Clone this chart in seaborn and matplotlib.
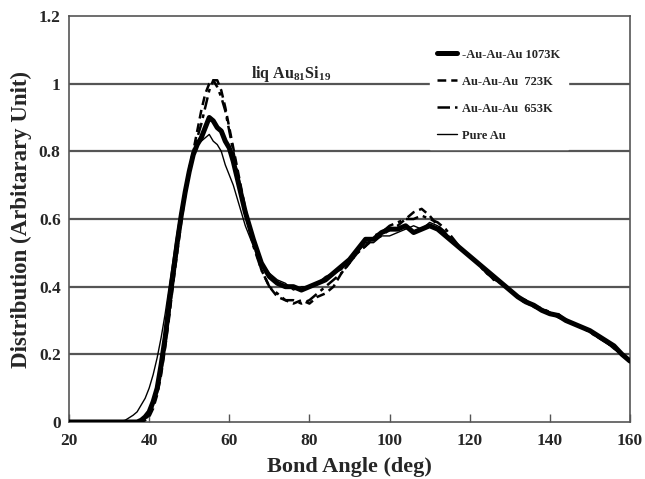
import numpy as np
import pandas as pd
import matplotlib
matplotlib.use("Agg")
import matplotlib.pyplot as plt
import seaborn as sns

angles = [20, 22, 24, 26, 28, 30, 32, 34] + list(range(36, 67)) + list(range(68, 161, 2))

k1073 = [0, 0, 0, 0, 0, 0, 0, 0,
         0.0, 0.0, 0.005, 0.015, 0.03, 0.06, 0.10, 0.17, 0.25, 0.35, 0.44, 0.53, 0.61, 0.68, 0.74,
         0.79, 0.82, 0.84, 0.87, 0.90, 0.89, 0.87, 0.86, 0.83, 0.81, 0.77, 0.72, 0.67, 0.62, 0.58, 0.54,
         0.47, 0.43, 0.41, 0.40, 0.40, 0.39, 0.40, 0.41, 0.42, 0.44, 0.46, 0.48, 0.51, 0.54, 0.54, 0.56,
         0.57, 0.57, 0.58, 0.56, 0.57, 0.58, 0.57, 0.55, 0.53, 0.51, 0.49, 0.47, 0.45, 0.43, 0.41, 0.39,
         0.37, 0.355, 0.345, 0.33, 0.32, 0.315, 0.30, 0.29, 0.28, 0.27, 0.255, 0.24, 0.225, 0.20, 0.18]

k723 = [0, 0, 0, 0, 0, 0, 0, 0,
        0.0, 0.0, 0.0, 0.005, 0.015, 0.04, 0.08, 0.14, 0.22, 0.31, 0.41, 0.50, 0.59, 0.67, 0.74,
        0.80, 0.86, 0.92, 0.97, 1.00, 1.01, 1.01, 0.98, 0.93, 0.87, 0.81, 0.75, 0.69, 0.63, 0.58, 0.53,
        0.45, 0.40, 0.37, 0.36, 0.35, 0.36, 0.35, 0.37, 0.38, 0.40, 0.44, 0.47, 0.50, 0.52, 0.54, 0.55,
        0.57, 0.58, 0.60, 0.62, 0.63, 0.61, 0.58, 0.56, 0.53, 0.51, 0.49, 0.47, 0.45, 0.42, 0.41, 0.39,
        0.37, 0.36, 0.34, 0.33, 0.32, 0.32, 0.30, 0.29, 0.28, 0.27, 0.25, 0.24, 0.22, 0.20, 0.18]

k653 = [0, 0, 0, 0, 0, 0, 0, 0,
        0.0, 0.0, 0.003, 0.008, 0.02, 0.05, 0.09, 0.15, 0.23, 0.32, 0.42, 0.51, 0.60, 0.68, 0.75,
        0.80, 0.84, 0.88, 0.93, 0.98, 1.01, 0.99, 0.96, 0.92, 0.86, 0.80, 0.74, 0.68, 0.62, 0.57, 0.52,
        0.45, 0.40, 0.38, 0.36, 0.36, 0.35, 0.36, 0.38, 0.40, 0.42, 0.44, 0.47, 0.50, 0.52, 0.55, 0.56,
        0.58, 0.59, 0.60, 0.60, 0.61, 0.60, 0.59, 0.57, 0.54, 0.51, 0.49, 0.47, 0.44, 0.43, 0.41, 0.39,
        0.37, 0.35, 0.345, 0.335, 0.325, 0.31, 0.30, 0.29, 0.28, 0.265, 0.25, 0.235, 0.22, 0.20, 0.18]

pure_au = [0, 0, 0, 0, 0, 0, 0, 0.005,
           0.02, 0.03, 0.05, 0.07, 0.10, 0.14, 0.19, 0.25, 0.32, 0.40, 0.48, 0.56, 0.63, 0.69, 0.75,
           0.79, 0.82, 0.83, 0.84, 0.85, 0.83, 0.82, 0.80, 0.76, 0.73, 0.70, 0.66, 0.62, 0.58, 0.55, 0.52,
           0.47, 0.44, 0.42, 0.41, 0.39, 0.40, 0.40, 0.41, 0.43, 0.44, 0.45, 0.48, 0.50, 0.53, 0.53, 0.55,
           0.55, 0.56, 0.57, 0.58, 0.57, 0.59, 0.58, 0.56, 0.53, 0.51, 0.49, 0.47, 0.44, 0.42, 0.41, 0.39,
           0.37, 0.36, 0.34, 0.335, 0.325, 0.31, 0.305, 0.29, 0.28, 0.265, 0.25, 0.235, 0.215, 0.20, 0.18]

labels = ["-Au-Au-Au 1073K", "Au-Au-Au  723K", "Au-Au-Au  653K", "Pure Au"]
xticks = [20, 40, 60, 80, 100, 120, 140, 160]
yticks = [0, 0.2, 0.4, 0.6, 0.8, 1, 1.2]
ytick_labels = ["0", "0.2", "0.4", "0.6", "0.8", "1", "1.2"]

sns.set_style("white")
plt.rcParams["font.family"] = ["Liberation Serif", "DejaVu Serif"]
plt.rcParams["font.weight"] = "bold"
plt.rcParams["mathtext.fontset"] = "custom"
plt.rcParams["mathtext.rm"] = "Liberation Serif:bold"
plt.rcParams["mathtext.bf"] = "Liberation Serif:bold"
plt.rcParams["mathtext.it"] = "Liberation Serif:bold"
plt.rcParams["mathtext.default"] = "rm"

fig = plt.figure(figsize=(6.45, 4.79), dpi=100)
ax = fig.add_axes([69 / 645, 57 / 479, 561 / 645, 406 / 479])

series = [k1073, k723, k653, pure_au]
styles = [
    dict(lw=3.6, ls="-"),
    dict(lw=1.8, ls=(0, (3.5, 2))),
    dict(lw=1.8, ls=(0, (5, 2, 1.5, 2))),
    dict(lw=1.0, ls="-"),
]
for vals, lab, st in zip(series, labels, styles):
    df = pd.DataFrame({"angle": angles, "dist": vals})
    sns.lineplot(data=df, x="angle", y="dist", ax=ax, color="black",
                 linewidth=st["lw"], linestyle=st["ls"], label=lab, zorder=3)

ax.set_xlim(20, 160)
ax.set_ylim(0, 1.2)
ax.set_xticks(xticks)
ax.set_xticklabels([str(t) for t in xticks], fontsize=12.5, fontweight="bold")
ax.set_yticks(yticks)
ax.set_yticklabels(ytick_labels, fontsize=12.5, fontweight="bold")
for y in yticks[1:-1]:
    ax.axhline(y, color="#555555", lw=1.6, zorder=1)

ax.tick_params(axis="x", direction="in", length=6, width=1, color="#555555", pad=8, bottom=True)
ax.tick_params(axis="y", length=0, pad=6)
for s in ax.spines.values():
    s.set_color("#555555")
    s.set_linewidth(1.2)

ax.set_xlabel("Bond Angle (deg)", fontsize=16, fontweight="bold", labelpad=6)
ax.set_ylabel("Distribution (Arbitarary Unit)", fontsize=16.5, fontweight="bold", labelpad=5)

ax.text(65.5, 1.0, r"liq Au$_{81}$Si$_{19}$", fontsize=11.5, fontweight="bold",
        ha="left", va="bottom")

leg = ax.legend(loc="upper left", bbox_to_anchor=(0.632, 0.953), frameon=True, fancybox=False,
                edgecolor="white", facecolor="white", framealpha=1.0,
                prop={"family": "Liberation Serif", "weight": "bold", "size": 9},
                handlelength=1.6, labelspacing=1.2, borderpad=0.6, handletextpad=0.4)
leg.set_zorder(5)

fig.savefig("out.png", dpi=100)
